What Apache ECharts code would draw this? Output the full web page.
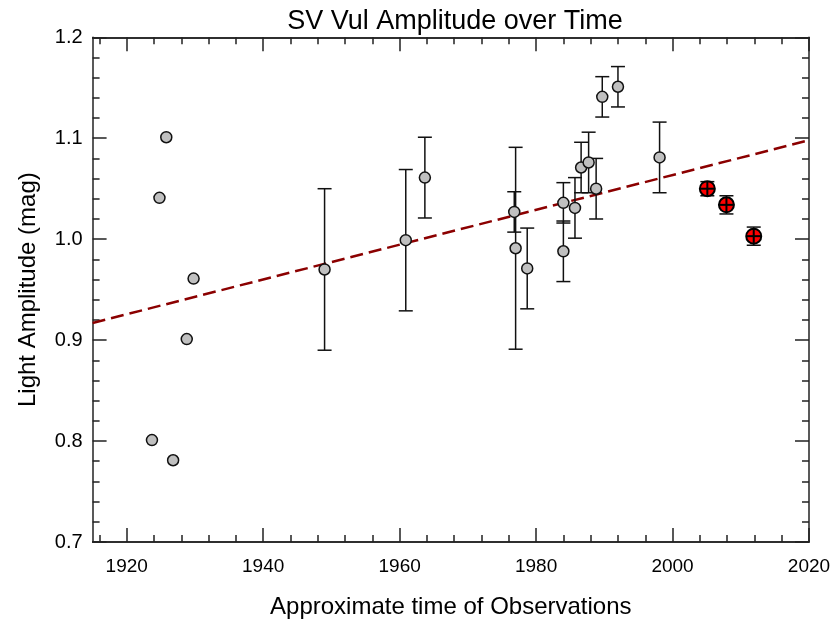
<!DOCTYPE html>
<html>
<head>
<meta charset="utf-8">
<script src="https://cdn.jsdelivr.net/npm/echarts@6/dist/echarts.min.js"></script>
<style>
html, body { margin: 0; padding: 0; background: #fff; }
#main { width: 833px; height: 620px; }
</style>
</head>
<body>
<div id="main"></div>
<script>
// gray points: older observations (year, amplitude, half error; null = no bar)
var grayYears  = [1923.7, 1924.8, 1925.8, 1926.8, 1928.8, 1929.8, 1949.0, 1960.9, 1963.7, 1976.8, 1977.0, 1978.7, 1984.0, 1984.0, 1985.7, 1986.6, 1987.7, 1988.8, 1989.7, 1992.0, 1998.1];
var grayAmps   = [0.801, 1.041, 1.101, 0.781, 0.901, 0.961, 0.970, 0.999, 1.061, 1.027, 0.991, 0.971, 1.036, 0.988, 1.031, 1.071, 1.076, 1.050, 1.141, 1.151, 1.081];
var grayErrors = [null, null, null, null, null, null, 0.08, 0.07, 0.04, 0.02, 0.10, 0.04, 0.02, 0.03, 0.03, 0.025, 0.03, 0.03, 0.02, 0.02, 0.035];

// red points: recent observations
var redYears  = [2005.1, 2007.9, 2011.9];
var redAmps   = [1.050, 1.034, 1.003];
var redErrors = [0.007, 0.009, 0.009];

// linear trend, end points
var trendYears = [1915, 2020];
var trendAmps  = [0.917, 1.098];

// x axis ticks (axis runs 1915..2020, labels from 1920)
var xMajorTicks = [1920, 1940, 1960, 1980, 2000, 2020];
var xMinorTicks = [1916, 1924, 1928, 1932, 1936, 1944, 1948, 1952, 1956, 1964, 1968, 1972, 1976,
                   1984, 1988, 1992, 1996, 2004, 2008, 2012, 2016];

var FONT = 'Liberation Sans, Arial, sans-serif';

var errData = [];
grayYears.forEach(function (y, i) {
    if (grayErrors[i] != null) errData.push([y, grayAmps[i] - grayErrors[i], grayAmps[i] + grayErrors[i]]);
});
redYears.forEach(function (y, i) {
    errData.push([y, redAmps[i] - redErrors[i], redAmps[i] + redErrors[i]]);
});

function errorBar(params, api) {
    var lo = api.coord([api.value(0), api.value(1)]);
    var hi = api.coord([api.value(0), api.value(2)]);
    var w = 7;
    var st = { stroke: '#111', lineWidth: 1.5 };
    return {
        type: 'group',
        children: [
            { type: 'line', shape: { x1: lo[0], y1: lo[1], x2: hi[0], y2: hi[1] }, style: st },
            { type: 'line', shape: { x1: lo[0] - w, y1: lo[1], x2: lo[0] + w, y2: lo[1] }, style: st },
            { type: 'line', shape: { x1: hi[0] - w, y1: hi[1], x2: hi[0] + w, y2: hi[1] }, style: st }
        ]
    };
}

function redMarker(params, api) {
    var p = api.coord([api.value(0), api.value(1)]);
    var r = 7.5;
    var st = { stroke: '#000', lineWidth: 2 };
    return {
        type: 'group',
        children: [
            { type: 'circle', shape: { cx: p[0], cy: p[1], r: r }, style: { fill: '#ff0000', stroke: '#000', lineWidth: 2 } },
            { type: 'line', shape: { x1: p[0] - r, y1: p[1], x2: p[0] + r, y2: p[1] }, style: st },
            { type: 'line', shape: { x1: p[0], y1: p[1] - r, x2: p[0], y2: p[1] + r }, style: st }
        ]
    };
}

var lineSt = { color: '#222', width: 1.5 };

function xAxisOf(pos, ticks, len, withLabels) {
    var ax = {
        type: 'value', min: 1915, max: 2020, position: pos,
        axisLine: { show: true, lineStyle: lineSt },
        axisTick: { show: true, inside: true, length: len, customValues: ticks, lineStyle: lineSt },
        axisLabel: { show: false },
        splitLine: { show: false }
    };
    if (withLabels) {
        ax.axisLabel = {
            show: true, margin: 15, fontFamily: FONT, fontSize: 19, color: '#000',
            customValues: xMajorTicks,
            formatter: function (v) { return String(v); }
        };
        ax.name = 'Approximate time of Observations';
        ax.nameLocation = 'middle';
        ax.nameGap = 53;
        ax.nameTextStyle = { fontFamily: FONT, fontSize: 24, color: '#000' };
    }
    return ax;
}

function yAxisOf(pos, withLabels) {
    var ax = {
        type: 'value', min: 0.7, max: 1.2, interval: 0.1, position: pos,
        axisLine: { show: true, lineStyle: lineSt },
        axisTick: { show: true, inside: true, length: 14, lineStyle: lineSt },
        minorTick: { show: true, splitNumber: 5, length: 7, lineStyle: lineSt },
        axisLabel: { show: false },
        splitLine: { show: false }
    };
    if (withLabels) {
        ax.axisLabel = {
            show: true, margin: 10, fontFamily: FONT, fontSize: 20, color: '#000',
            formatter: function (v) { return v.toFixed(1); }
        };
        ax.name = 'Light Amplitude (mag)';
        ax.nameLocation = 'middle';
        ax.nameGap = 52;
        ax.nameTextStyle = { fontFamily: FONT, fontSize: 24, color: '#000' };
    }
    return ax;
}

var myChart = echarts.init(document.getElementById('main'));
myChart.setOption({
    backgroundColor: '#fff',
    animation: false,
    title: {
        text: 'SV Vul Amplitude over Time',
        left: 450, top: 3, textAlign: 'center',
        textStyle: { fontFamily: FONT, fontSize: 27, fontWeight: 'normal', color: '#000' }
    },
    grid: { left: 92.6, right: 24, top: 37.3, bottom: 78, outerBoundsMode: 'none', containLabel: false },
    xAxis: [
        xAxisOf('bottom', xMajorTicks, 14, true),
        xAxisOf('bottom', xMinorTicks, 7, false),
        xAxisOf('top', xMajorTicks, 14, false),
        xAxisOf('top', xMinorTicks, 7, false)
    ],
    yAxis: [
        yAxisOf('left', true),
        yAxisOf('right', false)
    ],
    series: [
        {
            type: 'line', z: 1,
            data: trendYears.map(function (y, i) { return [y, trendAmps[i]]; }),
            symbol: 'none',
            lineStyle: { color: '#8b0000', width: 2.5, type: [13, 6] }
        },
        {
            type: 'custom', z: 2,
            renderItem: errorBar,
            data: errData
        },
        {
            type: 'scatter', z: 3,
            data: grayYears.map(function (y, i) { return [y, grayAmps[i]]; }),
            symbol: 'circle', symbolSize: 11,
            itemStyle: { color: '#c0c0c0', borderColor: '#111', borderWidth: 1.5, opacity: 1 }
        },
        {
            type: 'custom', z: 4,
            renderItem: redMarker,
            data: redYears.map(function (y, i) { return [y, redAmps[i]]; })
        }
    ]
});
</script>
</body>
</html>
